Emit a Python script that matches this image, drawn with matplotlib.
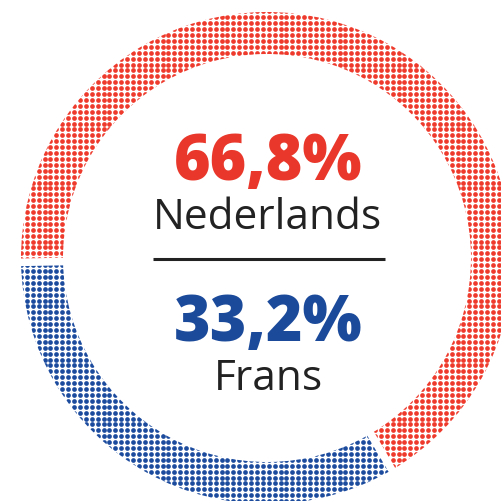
import numpy as np
import matplotlib
matplotlib.use('Agg')
from matplotlib import pyplot as plt
from matplotlib.patches import Wedge

# taalverdeling
labels = ['Nederlands', 'Frans']
shares = [66.8, 33.2]
share_text = ['66,8%', '33,2%']
colors = ['#EE3A2C', '#1C4B9E']
text_colors = ['#E9382B', '#1B4A9B']

W = 502
fig = plt.figure(figsize=(5.02, 5.02), dpi=100)
ax = fig.add_axes([0, 0, 1, 1])
ax.set_xlim(0, W)
ax.set_ylim(0, W)
ax.axis('off')

cx, cy = 267, W - 259
R, r = 246, 204
start = 181.0  # Frans begint links

# dot grid
step = 5.9
gx = np.arange(233.3 - step * 40, W + step, step)
gy = np.arange(W - 18.3 - step * 90, W + step, step)
X, Y = np.meshgrid(gx, gy)
X = X.ravel()
Y = Y.ravel()

angles = []
a = start
# Frans first (counterclockwise from left), then Nederlands
order = [1, 0]
for i in order:
    span = shares[i] * 3.6
    wedge = Wedge((cx, cy), R, a, a + span, width=R - r, transform=ax.transData)
    sc = ax.scatter(X, Y, s=11.5, color=colors[i], linewidths=0, zorder=2)
    sc.set_clip_path(wedge)
    angles.append(a)
    a += span

# white gaps between the segments
for ang in angles:
    t = np.deg2rad(ang)
    ax.plot([cx + (r - 6) * np.cos(t), cx + (R + 6) * np.cos(t)],
            [cy + (r - 6) * np.sin(t), cy + (R + 6) * np.sin(t)],
            color='white', lw=5.5, solid_capstyle='butt', zorder=3)

# centre text
font = ['Open Sans', 'DejaVu Sans']
ax.text(cx + 1, W - 180, share_text[0], ha='center', va='baseline',
        fontsize=45, fontweight='heavy', family=font, color=text_colors[0])
ax.text(cx, W - 229, labels[0], ha='center', va='baseline',
        fontsize=30.5, family=font, color='#222222')
ax.plot([153, 385], [W - 260, W - 260], color='#222222', lw=2.2,
        solid_capstyle='butt')
ax.text(cx + 1, W - 341, share_text[1], ha='center', va='baseline',
        fontsize=45, fontweight='heavy', family=font, color=text_colors[1])
ax.text(cx + 1, W - 390, labels[1], ha='center', va='baseline',
        fontsize=30.5, family=font, color='#222222')

fig.savefig('out.png', dpi=100)
